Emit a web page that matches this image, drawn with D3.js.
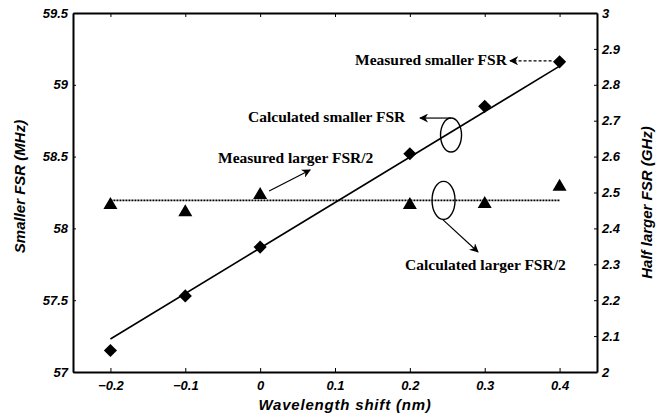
<!DOCTYPE html>
<html>
<head>
<meta charset="utf-8">
<script src="https://cdn.jsdelivr.net/npm/d3@7"></script>
<style>
  body { margin: 0; background: #fff; }
  .tick text { font-family: "Liberation Sans", Arial, sans-serif; font-weight: bold; font-style: italic; font-size: 13px; fill: #000; }
  .note { font-family: "Liberation Serif", "Times New Roman", serif; font-weight: bold; font-size: 15.5px; }
  .title { font-family: "Liberation Sans", Arial, sans-serif; font-weight: bold; font-style: italic; font-size: 15px; }
</style>
</head>
<body>
<div id="chart"></div>
<script>
// data
var shift = [-0.2, -0.1, 0, 0.2, 0.3, 0.4];
var smallerFSR = [57.15, 57.53, 57.87, 58.52, 58.85, 59.16];   // MHz, left axis
var halfLargerFSR = [2.465, 2.445, 2.493, 2.465, 2.468, 2.516]; // GHz, right axis
var calcSmallerX = [-0.2, 0.4];
var calcSmallerY = [57.23, 59.13];
var calcLargerX = [-0.2, 0.4];
var calcLargerY = [2.478, 2.478];
var xTicks = [-0.2, -0.1, 0, 0.1, 0.2, 0.3, 0.4];
var leftTicks = [57, 57.5, 58, 58.5, 59, 59.5];
var rightTicks = [2, 2.1, 2.2, 2.3, 2.4, 2.5, 2.6, 2.7, 2.8, 2.9, 3];

var margin = {top: 13, right: 65, bottom: 43, left: 73},
    width = 662 - margin.left - margin.right,
    height = 415 - margin.top - margin.bottom;

var svg = d3.select("#chart")
  .append("svg")
    .attr("width", 662)
    .attr("height", 415)
  .append("g")
    .attr("transform", "translate(" + margin.left + "," + margin.top + ")");

var defs = svg.append("defs");
defs.append("marker")
    .attr("id", "arr")
    .attr("viewBox", "0 0 10 10")
    .attr("refX", 9).attr("refY", 5)
    .attr("markerWidth", 9).attr("markerHeight", 9)
    .attr("markerUnits", "userSpaceOnUse")
    .attr("orient", "auto")
  .append("path")
    .attr("d", "M0,0 L10,5 L0,10 L3,5 Z")
    .attr("fill", "#000");

var x = d3.scaleLinear().domain([-0.25, 0.45]).range([0, width]);
var yL = d3.scaleLinear().domain([57, 59.5]).range([height, 0]);
var yR = d3.scaleLinear().domain([2, 3]).range([height, 0]);

// axes, ticks pointing inwards
function styleAxis(g) {
  g.select(".domain").attr("stroke", "#000").attr("stroke-width", 2);
  g.selectAll(".tick line").attr("stroke", "#000").attr("stroke-width", 1);
}
svg.append("g")
  .attr("transform", "translate(0," + height + ")")
  .call(d3.axisBottom(x).tickValues(xTicks).tickSizeInner(-4).tickSizeOuter(0).tickPadding(9).tickFormat(d3.format("")))
  .call(styleAxis);
svg.append("g")
  .call(d3.axisTop(x).tickValues(xTicks).tickSizeInner(-4).tickSizeOuter(0).tickFormat(""))
  .call(styleAxis);
svg.append("g")
  .call(d3.axisLeft(yL).tickValues(leftTicks).tickSizeInner(-3).tickSizeOuter(0).tickPadding(5).tickFormat(d3.format("")))
  .call(styleAxis);
svg.append("g")
  .attr("transform", "translate(" + width + ",0)")
  .call(d3.axisRight(yR).tickValues(rightTicks).tickSizeInner(-3).tickSizeOuter(0).tickPadding(5).tickFormat(d3.format("")))
  .call(styleAxis);

// calculated lines
svg.append("path")
  .datum(d3.zip(calcSmallerX, calcSmallerY))
  .attr("fill", "none").attr("stroke", "#000").attr("stroke-width", 1.6)
  .attr("d", d3.line().x(function(d) { return x(d[0]); }).y(function(d) { return yL(d[1]); }));
svg.append("path")
  .datum(d3.zip(calcLargerX, calcLargerY))
  .attr("fill", "none").attr("stroke", "#000").attr("stroke-width", 1.6)
  .attr("stroke-dasharray", "2,1")
  .attr("d", d3.line().x(function(d) { return x(d[0]); }).y(function(d) { return yR(d[1]); }));

// measured points
svg.selectAll(".dia")
  .data(d3.zip(shift, smallerFSR))
  .enter().append("path")
    .attr("d", d3.symbol().type(d3.symbolDiamond2).size(110))
    .attr("transform", function(d) { return "translate(" + x(d[0]) + "," + yL(d[1]) + ")"; })
    .attr("fill", "#000");
svg.selectAll(".tri")
  .data(d3.zip(shift, halfLargerFSR))
  .enter().append("path")
    .attr("d", d3.symbol().type(d3.symbolTriangle).size(85))
    .attr("transform", function(d) { return "translate(" + x(d[0]) + "," + yR(d[1]) + ")"; })
    .attr("fill", "#000");

// ellipses round the calculated lines
svg.append("ellipse")
  .attr("cx", x(0.255)).attr("cy", yL(58.65)).attr("rx", 10.5).attr("ry", 17)
  .attr("fill", "none").attr("stroke", "#000").attr("stroke-width", 1.4);
svg.append("ellipse")
  .attr("cx", x(0.245)).attr("cy", yR(2.478)).attr("rx", 11.5).attr("ry", 19)
  .attr("fill", "none").attr("stroke", "#000").attr("stroke-width", 1.4);

// annotations
function arrow(x1, y1, x2, y2, dash) {
  svg.append("line")
    .attr("x1", x1).attr("y1", y1).attr("x2", x2).attr("y2", y2)
    .attr("stroke", "#000").attr("stroke-width", 1.2)
    .attr("stroke-dasharray", dash || null)
    .attr("marker-end", "url(#arr)");
}
var ms = [x(0.4), yL(59.16)];
arrow(ms[0] - 8, ms[1] - 1, 437, ms[1] - 1, "3,2");
svg.append("text").attr("class", "note").attr("x", 282).attr("y", 52).text("Measured smaller FSR");

arrow(x(0.255), yL(58.65) - 17, 347, yL(58.65) - 17);
svg.append("text").attr("class", "note").attr("x", 175).attr("y", 109).text("Calculated smaller FSR");

arrow(x(0.0) + 9, 178, x(0.0) + 50, 157);
svg.append("text").attr("class", "note").attr("x", 145).attr("y", 150).text("Measured larger FSR/2");

arrow(x(0.245) - 1, yR(2.478) + 19, 405, 239);
svg.append("text").attr("class", "note").attr("x", 332).attr("y", 257).text("Calculated larger FSR/2");

// axis titles
svg.append("text").attr("class", "title")
  .attr("text-anchor", "middle")
  .attr("x", width / 2 + 10).attr("y", height + 38)
  .attr("letter-spacing", "0.8px")
  .text("Wavelength shift (nm)");
svg.append("text").attr("class", "title")
  .attr("text-anchor", "middle")
  .attr("transform", "translate(-48," + (height / 2 - 6) + ") rotate(-90)")
  .text("Smaller FSR (MHz)");
svg.append("text").attr("class", "title")
  .attr("text-anchor", "middle")
  .attr("transform", "translate(" + (width + 55) + "," + (height / 2 + 10) + ") rotate(-90)")
  .text("Half larger FSR (GHz)");
</script>
</body>
</html>
